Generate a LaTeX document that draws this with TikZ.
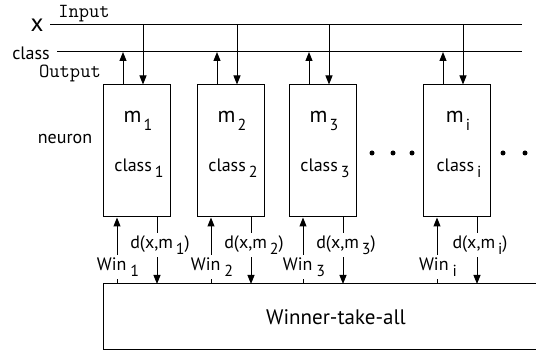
\documentclass[tikz,border=0pt]{standalone}
\usepackage{fontspec}
\setmainfont{PT Sans}
\usetikzlibrary{arrows.meta}
% lowered index set after a small gap, as in m 1, class 1, Win 1
\newcommand\lowidx[2][2pt]{\hspace{#1}\raisebox{-0.7ex}{\fontsize{16}{16}\selectfont #2}}

\begin{document}
\begin{tikzpicture}[x=1pt,y=-1pt,line width=1pt,
  arr/.style={-{Triangle[length=9pt,width=7pt]}},
  neuronbox/.style={draw,minimum width=67pt,minimum height=132pt,inner sep=0pt},
  txt/.style={inner sep=0pt,font=\fontsize{18}{21}\selectfont},
  big/.style={inner sep=0pt,font=\fontsize{22}{24}\selectfont},
  mono/.style={inner sep=0pt,font=\ttfamily\fontsize{20}{22}\selectfont},
  gap/.style={txt,fill=white,inner xsep=1pt,inner ysep=2pt},
  dot/.style={circle,fill,inner sep=0pt,minimum size=5pt}]
\useasboundingbox (0,0) rectangle (536,352);

% input and output buses
\coordinate (xL) at (50,25);  \coordinate (xR) at (522,25);
\coordinate (cL) at (57,52);  \coordinate (cR) at (522,52);
\draw (xL) -- (xR);
\draw (cL) -- (cR);

\node[big,font=\fontsize{25}{26}\selectfont] (xlab) at (37,25) {x};
\node[txt]  (clab)   at (31,53)  {class};
\node[mono] (inlab)  at (84,14)  {Input};
\node[mono] (outlab) at (70,73)  {Output};
\node[txt]  (nlab)   at (65,139) {neuron};

% winner-take-all stage
\node[draw,minimum width=442pt,minimum height=66pt,inner sep=0pt] (wta) at (324,317) {};
\node[txt,font=\fontsize{21}{24}\selectfont] (wtalab) at (336,317) {Winner-take-all};

% neurons with their connections
\foreach \n/\l in {1/103,2/197,3/289,i/423}{
  \node[neuronbox] (b\n) at (\l+33.5,151) {};
  \node[big] (m\n) at (\l+35,121) {m\lowidx{\n}};
  \node[txt] (k\n) at (\l+36,168) {class\lowidx[3pt]{\n}};
  \coordinate (xin\n)  at (\l+40,25);
  \coordinate (cout\n) at (\l+20,52);
  \draw[arr] (xin\n) -- (xin\n |- b\n.north);
  \draw[arr] (cout\n |- b\n.north) -- (cout\n);
  \coordinate (win\n) at (\l+14,284);
  \coordinate (dd\n)  at (\l+54,284);
  \draw[arr] (win\n) -- (win\n |- b\n.south);
  \draw[arr] (dd\n |- b\n.south) -- (dd\n);
  \node[gap] (wl\n) at (\l+15,267) {Win\lowidx[4pt]{\n}};
  \node[gap] (dl\n) at (\l+57,245) {d(x,m\lowidx[3pt]{\n})};
}

% ellipses between and after the neurons
\node[dot] (e1) at (372,153) {};
\node[dot] (e2) at (393,153) {};
\node[dot] (e3) at (412,153) {};
\node[dot] (e4) at (503,153) {};
\node[dot] (e5) at (525,153) {};
\end{tikzpicture}
\end{document}
